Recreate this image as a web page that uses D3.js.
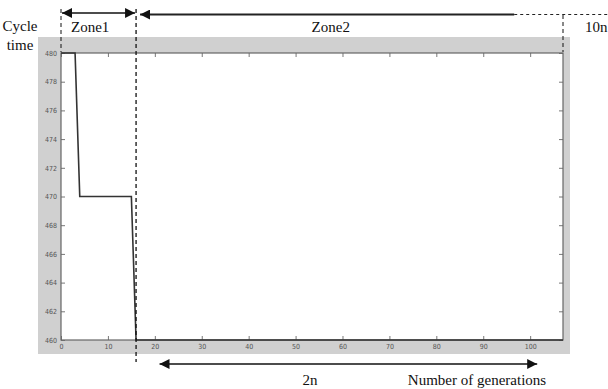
<!DOCTYPE html>
<html>
<head>
<meta charset="utf-8">
<script src="https://cdn.jsdelivr.net/npm/d3@7"></script>
<style>
  body { margin: 0; background: #fff; }
  .serif { font-family: "Liberation Serif", "DejaVu Serif", "Times New Roman", serif; }
</style>
</head>
<body>
<div id="chart"></div>
<script>
// data
const generations = [0, 3, 4, 15, 16, 107];
const cycleTime = [480, 480, 470, 470, 460, 460];
const xTicks = [0, 10, 20, 30, 40, 50, 60, 70, 80, 90, 100];
const yTicks = [460, 462, 464, 466, 468, 470, 472, 474, 476, 478, 480];
const zoneBounds = [0, 16, 107];   // Zone1 | Zone2 | 10n
const zoneLabels = ['Zone1', 'Zone2'];
const zone2Solid = 96.6;            // where the zone2 arrow turns dashed
const bottomArrow = [21, 101.5];    // the "2n" arrow, in generations

const W = 608, H = 389;
const margin = { top: 53, right: 45, bottom: 49, left: 61 };
const width = W - margin.left - margin.right;
const height = H - margin.top - margin.bottom;

const svg = d3.select('#chart').append('svg')
  .attr('width', W)
  .attr('height', H);

const defs = svg.append('defs');
defs.append('marker')
  .attr('id', 'head')
  .attr('viewBox', '0 0 10 10')
  .attr('refX', 10).attr('refY', 5)
  .attr('markerWidth', 10).attr('markerHeight', 10)
  .attr('markerUnits', 'userSpaceOnUse')
  .attr('orient', 'auto-start-reverse')
  .append('path')
  .attr('d', 'M0,0 L10,5 L0,10 Z')
  .attr('fill', '#111');

// grey figure background
svg.append('rect')
  .attr('x', 38).attr('y', 37)
  .attr('width', 532).attr('height', 317)
  .attr('fill', '#d0d0d0');

const g = svg.append('g')
  .attr('transform', `translate(${margin.left},${margin.top})`);

const x = d3.scaleLinear().domain([0, 107]).range([0, width]);
const y = d3.scaleLinear().domain([460, 480]).range([height, 0]);

g.append('rect')
  .attr('width', width).attr('height', height)
  .attr('fill', '#fff');

// axes, ticks pointing inward like matlab
const tickStyle = sel => {
  sel.select('.domain').remove();
  sel.selectAll('.tick line').attr('stroke', '#777');
  sel.selectAll('.tick text')
    .attr('fill', '#555')
    .style('font-family', '"Liberation Sans Narrow", "DejaVu Sans Condensed", sans-serif')
    .style('font-size', '7px');
};

g.append('g')
  .attr('transform', `translate(0,${height})`)
  .call(d3.axisBottom(x).tickValues(xTicks).tickSizeInner(-4).tickSizeOuter(0).tickPadding(4))
  .call(tickStyle);

g.append('g')
  .call(d3.axisTop(x).tickValues(xTicks).tickSizeInner(-4).tickSizeOuter(0).tickFormat(''))
  .call(tickStyle);

g.append('g')
  .call(d3.axisLeft(y).tickValues(yTicks).tickSizeInner(-4).tickSizeOuter(0).tickPadding(4))
  .call(tickStyle);

g.append('g')
  .attr('transform', `translate(${width},0)`)
  .call(d3.axisRight(y).tickValues(yTicks).tickSizeInner(-4).tickSizeOuter(0).tickFormat(''))
  .call(tickStyle);

g.append('rect')
  .attr('width', width).attr('height', height)
  .attr('fill', 'none')
  .attr('stroke', '#666')
  .attr('stroke-width', 1.2);

// the cycle time curve
const line = d3.line()
  .x((d, i) => x(generations[i]))
  .y(d => y(d));

g.append('path')
  .datum(cycleTime)
  .attr('d', line)
  .attr('fill', 'none')
  .attr('stroke', '#333')
  .attr('stroke-width', 1.6);

// zone annotations
const ann = svg.append('g').attr('transform', `translate(${margin.left},0)`);
const dash = '4,3';

ann.append('line')
  .attr('x1', x(zoneBounds[0])).attr('x2', x(zoneBounds[0]))
  .attr('y1', 9).attr('y2', 52)
  .attr('stroke', '#111').attr('stroke-dasharray', dash);
ann.append('line')
  .attr('x1', x(zoneBounds[1])).attr('x2', x(zoneBounds[1]))
  .attr('y1', 9).attr('y2', 362)
  .attr('stroke', '#111').attr('stroke-width', 1.3).attr('stroke-dasharray', dash);
ann.append('line')
  .attr('x1', x(zoneBounds[2])).attr('x2', x(zoneBounds[2]))
  .attr('y1', 15).attr('y2', 52)
  .attr('stroke', '#111').attr('stroke-dasharray', dash);

// Zone1 double arrow
ann.append('line')
  .attr('x1', x(zoneBounds[0]) + 1).attr('x2', x(zoneBounds[1]) - 1)
  .attr('y1', 13).attr('y2', 13)
  .attr('stroke', '#111').attr('stroke-width', 1.5)
  .attr('marker-start', 'url(#head)')
  .attr('marker-end', 'url(#head)');

// Zone2 arrow: solid part, then dashed to 10n
ann.append('line')
  .attr('x1', x(zone2Solid)).attr('x2', x(zoneBounds[1]) + 4)
  .attr('y1', 14.5).attr('y2', 14.5)
  .attr('stroke', '#222').attr('stroke-width', 1.8)
  .attr('marker-end', 'url(#head)');
ann.append('line')
  .attr('x1', x(zone2Solid)).attr('x2', W - margin.left)
  .attr('y1', 14.5).attr('y2', 14.5)
  .attr('stroke', '#222').attr('stroke-width', 1.2)
  .attr('stroke-dasharray', '3,3');

ann.selectAll('.zone-label')
  .data(zoneLabels)
  .enter().append('text')
  .attr('class', 'zone-label serif')
  .attr('x', (d, i) => i === 0 ? x(zoneBounds[0]) + 10 : x(57.5))
  .attr('y', 32)
  .attr('text-anchor', (d, i) => i === 0 ? 'start' : 'middle')
  .attr('font-size', '15px')
  .attr('fill', '#111')
  .text(d => d);

svg.append('text')
  .attr('class', 'serif')
  .attr('x', 585).attr('y', 32)
  .attr('font-size', '15px').attr('fill', '#111')
  .text('10n');

// y label
svg.append('text')
  .attr('class', 'serif')
  .attr('x', 20).attr('y', 31)
  .attr('text-anchor', 'middle')
  .attr('font-size', '15px').attr('fill', '#111')
  .text('Cycle');
svg.append('text')
  .attr('class', 'serif')
  .attr('x', 20).attr('y', 50)
  .attr('text-anchor', 'middle')
  .attr('font-size', '15px').attr('fill', '#111')
  .text('time');

// bottom "2n" arrow
ann.append('line')
  .attr('x1', x(bottomArrow[0])).attr('x2', x(bottomArrow[1]))
  .attr('y1', 364).attr('y2', 364)
  .attr('stroke', '#111').attr('stroke-width', 1.5)
  .attr('marker-start', 'url(#head)')
  .attr('marker-end', 'url(#head)');

svg.append('text')
  .attr('class', 'serif')
  .attr('x', 310).attr('y', 385)
  .attr('text-anchor', 'middle')
  .attr('font-size', '15px').attr('fill', '#111')
  .text('2n');

svg.append('text')
  .attr('class', 'serif')
  .attr('x', 477).attr('y', 385)
  .attr('text-anchor', 'middle')
  .attr('font-size', '15px').attr('fill', '#111')
  .text('Number of generations');
</script>
</body>
</html>
